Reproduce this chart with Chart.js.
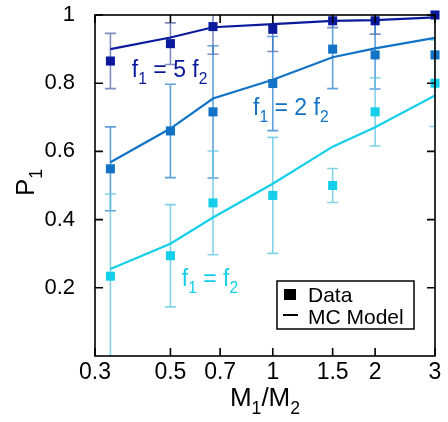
<!DOCTYPE html>
<html>
<head>
<meta charset="utf-8">
<script src="https://cdn.jsdelivr.net/npm/chart.js@4.4.0/dist/chart.umd.min.js"></script>
<style>
html,body{margin:0;padding:0;background:#fff;}
#wrap{width:448px;height:422px;}
</style>
</head>
<body>
<div id="wrap"><canvas id="c" width="448" height="422"></canvas></div>
<script>
// ---- data ----
const massRatio = [0.333, 0.5, 0.667, 1, 1.5, 2, 3];
const xTickValues = [0.3, 0.5, 0.7, 1, 1.5, 2, 3];
const xTickLabels = ['0.3', '0.5', '0.7', '1', '1.5', '2', '3'];
const yTickValues = [0.2, 0.4, 0.6, 0.8, 1];
const yTickLabels = ['0.2', '0.4', '0.6', '0.8', '1'];

const data5 = [0.865, 0.916, 0.966, 0.958, 0.983, 0.983, 1.0];
const err5  = [0.081, 0.061, 0.081, 0.065, 0.02, 0.039, 0.0];
const data2 = [0.549, 0.660, 0.716, 0.799, 0.900, 0.883, 0.883];
const err2  = [0.123, 0.137, 0.194, 0.138, 0.116, 0.100, 0.0];
const data1 = [0.234, 0.294, 0.449, 0.471, 0.500, 0.716, 0.800];
const err1  = [0.241, 0.150, 0.152, 0.170, 0.050, 0.100, 0.127];

const model5 = [0.900, 0.934, 0.964, 0.973, 0.983, 0.985, 0.993];
const model2 = [0.568, 0.667, 0.755, 0.810, 0.876, 0.902, 0.933];
const model1 = [0.255, 0.329, 0.406, 0.505, 0.614, 0.671, 0.764];

const colors    = ['#0b1a9c', '#1272c6', '#14cfe9'];
const errColors = ['rgba(60,80,160,0.65)', 'rgba(40,130,210,0.75)', 'rgba(100,200,225,0.8)'];

const FONT = '"Liberation Sans", Arial, Helvetica, sans-serif';

function pts(ys){ return massRatio.map((x,i)=>({x:x, y:ys[i]})); }

const datasets = [];
[[model5,0],[model2,1],[model1,2]].forEach(([m,i])=>{
  datasets.push({type:'line', label:'model '+i, data:pts(m), borderColor:colors[i], borderWidth:2.2,
    pointRadius:0, fill:false, tension:0, order:2});
});
[[data5,err5,0],[data2,err2,1],[data1,err1,2]].forEach(([d,e,i])=>{
  datasets.push({type:'line', label:'data '+i, data:pts(d), errors:e, errColor:errColors[i], showLine:false,
    pointStyle:'rect', pointRadius:6.4, pointBackgroundColor:colors[i], pointBorderColor:colors[i],
    pointBorderWidth:0, clip:false, order:1});
});

const errorBars = {
  id:'errorBars',
  beforeDatasetsDraw(chart){
    const {ctx, chartArea:a, scales:{x,y}} = chart;
    ctx.save();
    ctx.beginPath(); ctx.rect(a.left, a.top, a.right-a.left, a.bottom-a.top); ctx.clip();
    chart.data.datasets.forEach(ds=>{
      if(!ds.errors) return;
      ctx.strokeStyle = ds.errColor; ctx.lineWidth = 1.6;
      ds.data.forEach((p,i)=>{
        const e = ds.errors[i]; if(!e) return;
        const px = x.getPixelForValue(p.x);
        const y1 = y.getPixelForValue(p.y + e), y2 = y.getPixelForValue(p.y - e);
        ctx.beginPath();
        ctx.moveTo(px, y1); ctx.lineTo(px, y2);
        ctx.moveTo(px-5.5, y1); ctx.lineTo(px+5.5, y1);
        ctx.moveTo(px-5.5, y2); ctx.lineTo(px+5.5, y2);
        ctx.stroke();
      });
    });
    ctx.restore();
  }
};

function drawSubText(ctx, parts, x, y, size, color, align){
  const sub = size*0.68;
  let w = 0;
  parts.forEach(([t,s])=>{ ctx.font = (s?sub:size)+'px '+FONT; w += ctx.measureText(t).width; });
  let cx = align==='center' ? x - w/2 : x;
  ctx.fillStyle = color; ctx.textBaseline = 'alphabetic'; ctx.textAlign = 'left';
  parts.forEach(([t,s])=>{
    ctx.font = (s?sub:size)+'px '+FONT;
    ctx.fillText(t, cx, s ? y + size*0.3 : y);
    cx += ctx.measureText(t).width;
  });
}

const decor = {
  id:'decor',
  afterDraw(chart){
    const {ctx, chartArea:a, scales:{x,y}} = chart;
    ctx.save();
    ctx.strokeStyle = '#000'; ctx.lineWidth = 1.6;
    ctx.strokeRect(a.left, a.top, a.right-a.left, a.bottom-a.top);
    ctx.beginPath();
    xTickValues.forEach(v=>{
      const px = x.getPixelForValue(v);
      ctx.moveTo(px, a.bottom); ctx.lineTo(px, a.bottom-8);
      ctx.moveTo(px, a.top); ctx.lineTo(px, a.top+8);
    });
    yTickValues.forEach(v=>{
      const py = y.getPixelForValue(v);
      ctx.moveTo(a.left, py); ctx.lineTo(a.left+8, py);
      ctx.moveTo(a.right, py); ctx.lineTo(a.right-8, py);
    });
    ctx.stroke();

    const ann = [
      [0.385, 0.819, 0, ['f','1',' = 5 f','2']],
      [0.875, 0.707, 1, ['f','1',' = 2 f','2']],
      [0.540, 0.205, 2, ['f','1',' = f','2']]
    ];
    ann.forEach(([vx,vy,i,t])=>{
      drawSubText(ctx, [[t[0],false],[t[1],true],[t[2],false],[t[3],true]],
        x.getPixelForValue(vx), y.getPixelForValue(vy), 23, colors[i], 'left');
    });

    drawSubText(ctx, [['M',false],['1',true],['/M',false],['2',true]], (a.left+a.right)/2, 406, 26, '#000', 'center');
    ctx.save();
    ctx.translate(34, (a.top+a.bottom)/2 - 3);
    ctx.rotate(-Math.PI/2);
    drawSubText(ctx, [['P',false],['1',true]], 0, 0, 26, '#000', 'center');
    ctx.restore();

    const bx = a.right-158, by = a.bottom-75, bw = 137, bh = 48;
    ctx.fillStyle = '#fff'; ctx.fillRect(bx, by, bw, bh);
    ctx.strokeStyle = '#000'; ctx.lineWidth = 1.5; ctx.strokeRect(bx, by, bw, bh);
    ctx.fillStyle = '#000';
    ctx.fillRect(bx+7, by+8, 12, 11);
    ctx.fillRect(bx+6, by+33, 15, 2);
    ctx.font = '21px '+FONT; ctx.textAlign='left'; ctx.textBaseline='alphabetic';
    ctx.fillText('Data', bx+31, by+21);
    ctx.fillText('MC Model', bx+31, by+43);
    ctx.restore();
  }
};

new Chart(document.getElementById('c'), {
  data:{datasets},
  options:{
    responsive:false, animation:false, devicePixelRatio:1,
    layout:{padding:{top:15, right:13, left:0, bottom:0}},
    plugins:{legend:{display:false}, tooltip:{enabled:false}},
    scales:{
      x:{type:'logarithmic', min:0.3, max:3,
        grid:{display:false}, border:{display:false},
        afterBuildTicks(s){ s.ticks = xTickValues.map(v=>({value:v})); },
        afterFit(s){ s.height = 66; s.paddingLeft = 0; s.paddingRight = 0; },
        ticks:{autoSkip:false, maxRotation:0, padding:-5, color:'#000', font:{family:FONT, size:23},
          callback(v){ const i = xTickValues.indexOf(v); return i>=0 ? xTickLabels[i] : ''; }}
      },
      y:{type:'linear', min:0, max:1,
        grid:{display:false}, border:{display:false},
        afterBuildTicks(s){ s.ticks = yTickValues.map(v=>({value:v})); },
        afterFit(s){ s.width = 95; s.paddingTop = 0; s.paddingBottom = 0; },
        ticks:{padding:12, color:'#000', font:{family:FONT, size:22},
          callback(v){ const i = yTickValues.indexOf(v); return i>=0 ? yTickLabels[i] : ''; }}
      }
    }
  },
  plugins:[errorBars, decor]
});
</script>
</body>
</html>
